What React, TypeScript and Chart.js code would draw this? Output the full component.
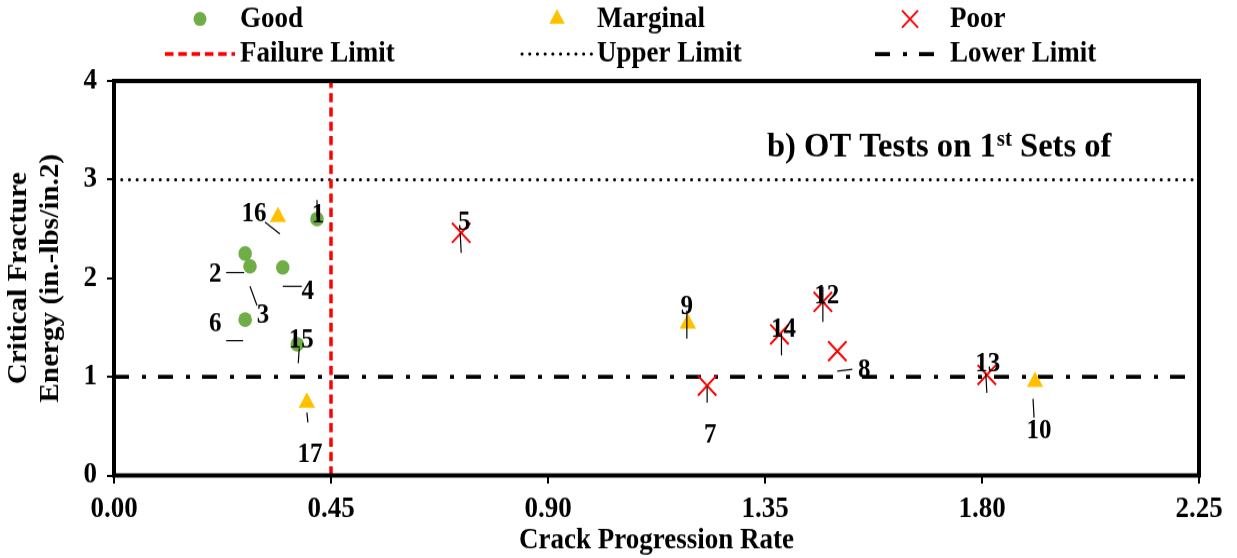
import React, { useEffect, useRef } from "react";
import { Chart, registerables } from "chart.js";

Chart.register(...registerables);

// ---------- data ----------
const goodLabels = ["1", "2", "3", "4", "6", "15"];
const goodX = [0.421, 0.272, 0.282, 0.35, 0.272, 0.38];
const goodY = [2.6, 2.25, 2.12, 2.11, 1.58, 1.33];

const marginalLabels = ["16", "17", "9", "10"];
const marginalX = [0.34, 0.4, 1.19, 1.91];
const marginalY = [2.62, 0.74, 1.54, 0.95];

const poorLabels = ["5", "7", "14", "12", "8", "13"];
const poorX = [0.72, 1.23, 1.38, 1.47, 1.5, 1.81];
const poorY = [2.46, 0.91, 1.43, 1.76, 1.26, 1.02];

const failureLimitX = 0.45;
const upperLimitY = 3;
const lowerLimitY = 1;

const xTickValues = [0, 0.45, 0.9, 1.35, 1.8, 2.25];
const yTickValues = [0, 1, 2, 3, 4];
const xMin = 0;
const xMax = 2.25;
const yMin = 0;
const yMax = 4;

const chartTitleMain = "b) OT Tests on 1";
const chartTitleSup = "st";
const chartTitleRest = " Sets of";
const xAxisTitle = "Crack Progression Rate";
const yAxisTitle = ["Critical Fracture", "Energy (in.-lbs/in.2)"];

// ---------- label placement (screen-pixel offsets from the point: label dx, dy, leader x1, y1, x2, y2) ----------
const goodLabelOffsets = [
  [1, -4, 0, -19, 0, -2],
  [-30, 21, -19, 19, -1, 19],
  [13, 49, 0, 20, 7, 39],
  [25, 25, 0, 19, 19, 19],
  [-30, 5, -19, 21, -2, 21],
  [4, -4, 2, 4, 1, 19],
];
const marginalLabelOffsets = [
  [-24, -3, -13, 5, 2, 17],
  [3, 53, 0, 10, 1, 20],
  [-1, -16, -1, -13, -1, 15],
  [4, 50, -2, 17, -1, 36],
];
const poorLabelOffsets = [
  [3, -10, -1, 0, 0, 20],
  [3, 50, 0, 1, 0, 17],
  [4, -5, 2, -1, 2, 21],
  [4, -6, 0, -15, 0, 20],
  [27, 20, 0, 20, 15, 18],
  [1, -10, -1, -2, 0, 18],
];

const FONT = "'Liberation Serif', 'Times New Roman', serif";
const W = 1237;
const H = 558;
const INNER_H = 517; // the picture is slightly stretched vertically
const SY = H / INNER_H;

const toPts = (xs: number[], ys: number[]) => xs.map((x, i) => ({ x, y: ys[i] }));

const borderPlugin = {
  id: "plotBorder",
  afterDatasetsDraw(chart: any) {
    const { ctx, chartArea } = chart;
    ctx.save();
    ctx.strokeStyle = "#000";
    ctx.lineWidth = 4;
    ctx.strokeRect(chartArea.left, chartArea.top, chartArea.right - chartArea.left, chartArea.bottom - chartArea.top);
    ctx.restore();
  },
};

const dataLabelPlugin = {
  id: "dataLabels",
  afterDatasetsDraw(chart: any) {
    const { ctx } = chart;
    ctx.save();
    chart.data.datasets.forEach((ds: any, di: number) => {
      if (!ds.pointLabels) return;
      const meta = chart.getDatasetMeta(di);
      meta.data.forEach((el: any, i: number) => {
        const off = ds.labelOffsets[i];
        const px = el.x;
        const py = el.y;
        ctx.strokeStyle = "#000";
        ctx.lineWidth = 1.2;
        ctx.beginPath();
        ctx.moveTo(px + off[2], py + off[3] / SY);
        ctx.lineTo(px + off[4], py + off[5] / SY);
        ctx.stroke();
        ctx.fillStyle = "#000";
        ctx.font = `bold 25px ${FONT}`;
        ctx.textAlign = "center";
        ctx.textBaseline = "middle";
        ctx.fillText(ds.pointLabels[i], px + off[0], py + off[1] / SY);
      });
    });
    ctx.restore();
  },
};

const titlePlugin = {
  id: "innerTitle",
  afterDraw(chart: any) {
    const { ctx } = chart;
    ctx.save();
    ctx.fillStyle = "#000";
    ctx.textAlign = "left";
    ctx.textBaseline = "alphabetic";
    let x = 767;
    const baseY = 157 / SY;
    ctx.font = `bold 32.6px ${FONT}`;
    ctx.fillText(chartTitleMain, x, baseY);
    x += ctx.measureText(chartTitleMain).width;
    ctx.font = `bold 21px ${FONT}`;
    ctx.fillText(chartTitleSup, x + 1, baseY - 10);
    x += ctx.measureText(chartTitleSup).width + 1;
    ctx.font = `bold 32.6px ${FONT}`;
    ctx.fillText(chartTitleRest, x, baseY);
    ctx.restore();
  },
};

const legendPlugin = {
  id: "customLegend",
  afterDraw(chart: any) {
    const { ctx } = chart;
    const colTextX = [240, 597, 950];
    const rowY = [19 / SY, 54 / SY];
    ctx.save();
    chart.data.datasets.forEach((ds: any, i: number) => {
      const col = i % 3;
      const row = Math.floor(i / 3);
      const tx = colTextX[col];
      const ty = rowY[row];
      if (ds.showLine) {
        ctx.save();
        ctx.strokeStyle = ds.borderColor;
        ctx.lineWidth = ds.borderWidth;
        ctx.lineCap = ds.borderCapStyle || "butt";
        ctx.setLineDash(ds.borderDash || []);
        ctx.beginPath();
        ctx.moveTo(tx - 75, ty);
        ctx.lineTo(tx - 5, ty);
        ctx.stroke();
        ctx.restore();
      } else {
        const mx = tx - 40;
        ctx.save();
        ctx.fillStyle = ds.backgroundColor;
        ctx.strokeStyle = ds.borderColor;
        ctx.lineWidth = ds.borderWidth || 1;
        if (ds.pointStyle === "circle") {
          ctx.beginPath();
          ctx.arc(mx, ty, 6.5, 0, Math.PI * 2);
          ctx.fill();
        } else if (ds.pointStyle === "triangle") {
          const r = 9;
          ctx.beginPath();
          ctx.moveTo(mx, ty - r);
          ctx.lineTo(mx + r * 0.866, ty + r / 2);
          ctx.lineTo(mx - r * 0.866, ty + r / 2);
          ctx.closePath();
          ctx.fill();
        } else {
          const h = 8;
          ctx.beginPath();
          ctx.moveTo(mx - h, ty - h);
          ctx.lineTo(mx + h, ty + h);
          ctx.moveTo(mx + h, ty - h);
          ctx.lineTo(mx - h, ty + h);
          ctx.stroke();
        }
        ctx.restore();
      }
      ctx.fillStyle = "#000";
      ctx.font = `bold 27px ${FONT}`;
      ctx.textAlign = "left";
      ctx.textBaseline = "middle";
      ctx.fillText(ds.label, tx, ty);
    });
    ctx.restore();
  },
};

export default function App() {
  const ref = useRef<HTMLCanvasElement>(null);
  useEffect(() => {
    document.body.style.margin = "0";
    const tickFont = { family: FONT, size: 27, weight: "bold" as const, lineHeight: 1.2 };
    const chart = new Chart(ref.current!, {
      type: "scatter",
      data: {
        datasets: [
          {
            label: "Good",
            data: toPts(goodX, goodY),
            pointStyle: "circle",
            pointRadius: 6.8,
            pointHoverRadius: 6.8,
            backgroundColor: "#70AD47",
            borderColor: "#70AD47",
            borderWidth: 0,
            order: 1,
            pointLabels: goodLabels,
            labelOffsets: goodLabelOffsets,
          } as any,
          {
            label: "Marginal",
            data: toPts(marginalX, marginalY),
            pointStyle: "triangle",
            pointRadius: 9.5,
            pointHoverRadius: 9.5,
            backgroundColor: "#FFC000",
            borderColor: "#FFC000",
            borderWidth: 0,
            order: 1,
            pointLabels: marginalLabels,
            labelOffsets: marginalLabelOffsets,
          } as any,
          {
            label: "Poor",
            data: toPts(poorX, poorY),
            pointStyle: "crossRot",
            pointRadius: 13,
            pointHoverRadius: 13,
            backgroundColor: "#FF0000",
            borderColor: "#FF0000",
            borderWidth: 2,
            order: 1,
            pointLabels: poorLabels,
            labelOffsets: poorLabelOffsets,
          } as any,
          {
            label: "Failure Limit",
            data: [
              { x: failureLimitX, y: yMin },
              { x: failureLimitX, y: yMax },
            ],
            showLine: true,
            pointRadius: 0,
            borderColor: "#FF0000",
            backgroundColor: "#FF0000",
            borderWidth: 3.5,
            borderDash: [8.5, 4.8],
            order: 2,
          } as any,
          {
            label: "Upper Limit",
            data: [
              { x: xMin, y: upperLimitY },
              { x: xMax, y: upperLimitY },
            ],
            showLine: true,
            pointRadius: 0,
            borderColor: "#000",
            backgroundColor: "#000",
            borderWidth: 3,
            borderCapStyle: "round",
            borderDash: [0.1, 7.6],
            order: 2,
          } as any,
          {
            label: "Lower Limit",
            data: [
              { x: xMin, y: lowerLimitY },
              { x: xMax, y: lowerLimitY },
            ],
            showLine: true,
            pointRadius: 0,
            borderColor: "#000",
            backgroundColor: "#000",
            borderWidth: 3.8,
            borderDash: [15, 13, 4, 12],
            order: 2,
          } as any,
        ],
      },
      options: {
        animation: false,
        responsive: false,
        maintainAspectRatio: false,
        devicePixelRatio: 1,
        layout: { padding: { top: 75, right: 38, left: 0, bottom: 0 } },
        plugins: {
          legend: { display: false },
          tooltip: { enabled: false },
          title: { display: false },
        },
        scales: {
          x: {
            type: "linear",
            min: xMin,
            max: xMax,
            afterBuildTicks: (s: any) => {
              s.ticks = xTickValues.map((v) => ({ value: v }));
            },
            afterFit: (s: any) => {
              s.height = 76.5;
            },
            ticks: {
              callback: (v: any) => Number(v).toFixed(2),
              font: tickFont,
              color: "#000",
              padding: 8,
              maxRotation: 0,
              autoSkip: false,
            },
            grid: {
              drawOnChartArea: false,
              drawTicks: true,
              tickLength: 7.5,
              color: "#000",
              lineWidth: 2,
            },
            border: { display: false },
            title: {
              display: true,
              text: xAxisTitle,
              color: "#000",
              font: { family: FONT, size: 27, weight: "bold", lineHeight: 1.2 },
              padding: { top: 0, bottom: 0 },
            },
          },
          y: {
            type: "linear",
            min: yMin,
            max: yMax,
            afterBuildTicks: (s: any) => {
              s.ticks = yTickValues.map((v) => ({ value: v }));
            },
            afterFit: (s: any) => {
              s.width = 114;
            },
            ticks: {
              font: tickFont,
              color: "#000",
              padding: 10,
              autoSkip: false,
            },
            grid: {
              drawOnChartArea: false,
              drawTicks: true,
              tickLength: 7,
              color: "#000",
              lineWidth: 2,
            },
            border: { display: false },
            title: {
              display: true,
              text: yAxisTitle,
              color: "#000",
              font: { family: FONT, size: 27, weight: "bold", lineHeight: 1.15 },
              padding: { top: 4, bottom: 0 },
            },
          },
        },
      },
      plugins: [borderPlugin, dataLabelPlugin, titlePlugin, legendPlugin],
    } as any);
    return () => chart.destroy();
  }, []);

  return (
    <div style={{ position: "relative", width: W, height: H, overflow: "hidden" }}>
      <div
        style={{
          width: W,
          height: INNER_H,
          transform: `scaleY(${SY})`,
          transformOrigin: "0 0",
        }}
      >
        <canvas ref={ref} width={W} height={INNER_H} style={{ display: "block" }} />
      </div>
    </div>
  );
}
